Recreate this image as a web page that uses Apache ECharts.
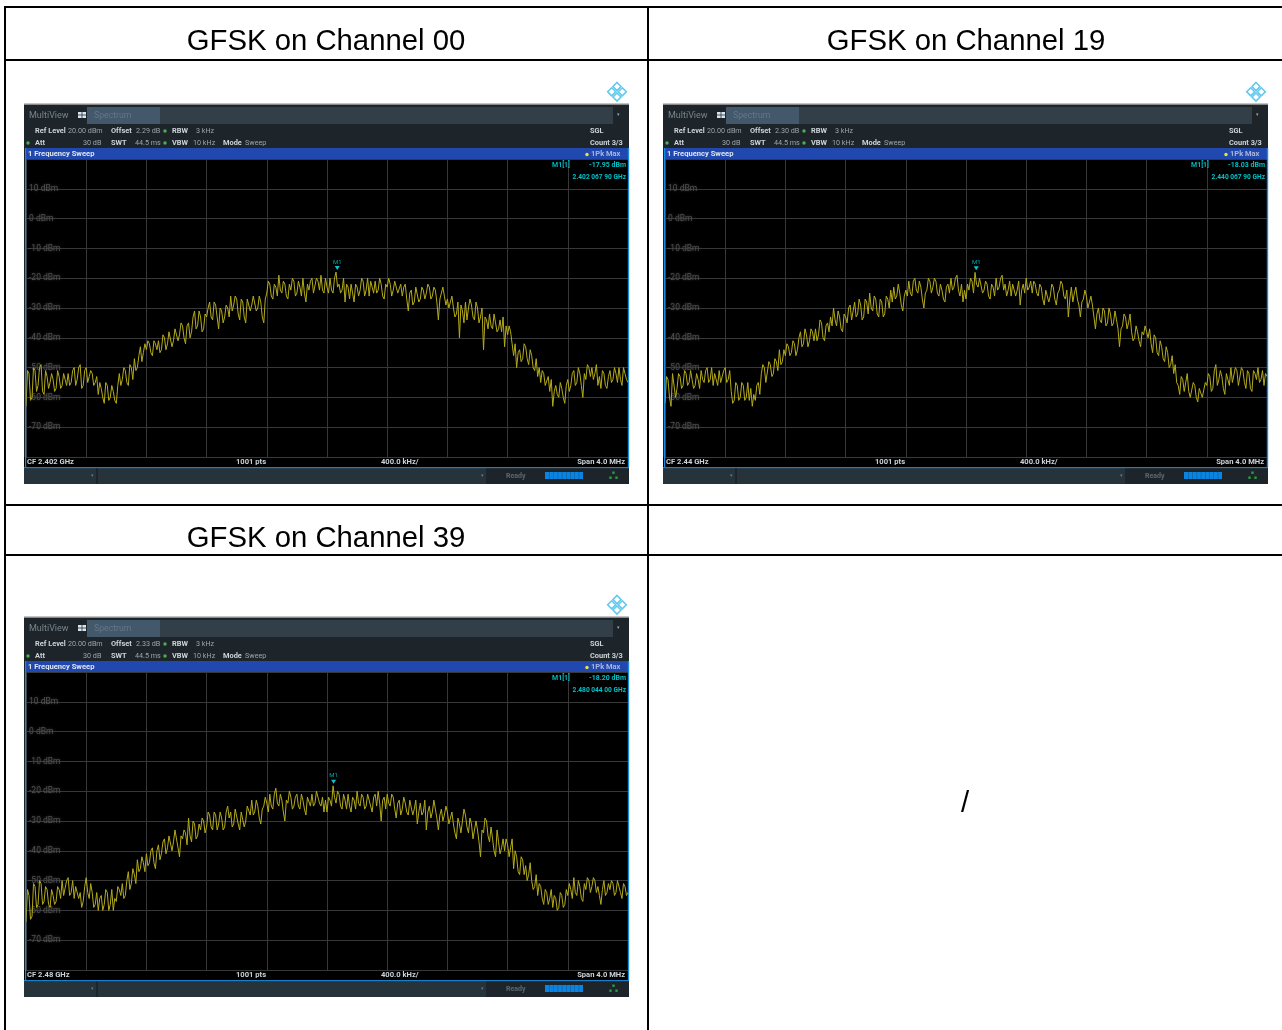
<!DOCTYPE html>
<html><head><meta charset="utf-8">
<style>html,body{margin:0;padding:0;background:#fff}#c{width:1282px;height:1030px}</style>
<script src="https://cdn.jsdelivr.net/npm/echarts@6/dist/echarts.min.js"></script>
</head><body><div id="c"></div>
<script>
const titles = ['GFSK on Channel 00','GFSK on Channel 19','GFSK on Channel 39'];
const yTicks = [10,0,-10,-20,-30,-40,-50,-60,-70];
const trace00 = [
-63,-52,-60,-51,-56,-49,-59,-53,-55,-54,-57,-53,-56,-54,-52,-55,-50,-54,-49,-56,
-50,-53,-52,-55,-59,-57,-62,-56,-60,-58,-62,-52,-54,-51,-56,-50,-47,-50,-43,-45,
-44,-42,-46,-42,-41,-44,-40,-42,-38,-41,-37,-39,-36,-42,-35,-38,-31,-36,-33,-37,
-33,-28,-34,-29,-37,-31,-33,-30,-26,-29,-27,-34,-28,-35,-27,-29,-26,-30,-28,-35,
-25,-22,-27,-23,-19,-25,-22,-27,-24,-21,-25,-23,-20,-28,-24,-20,-25,-21,-19,-25,
-23,-20,-25,-17.95,-22,-24,-28,-23,-22,-28,-23,-24,-21,-24,-26,-23,-21,-24,-22,-27,
-23,-22,-24,-21,-25,-26,-22,-31,-24,-28,-23,-27,-24,-25,-23,-26,-24,-34,-25,-26,
-27,-28,-30,-32,-40,-31,-28,-30,-29,-34,-30,-33,-44,-34,-32,-37,-35,-37,-38,-43,
-39,-38,-46,-50,-44,-47,-43,-49,-46,-51,-53,-55,-52,-56,-58,-63,-56,-60,-57,-62,
-54,-56,-51,-55,-52,-60,-54,-50,-50,-52,-56,-57,-52,-57,-51,-54,-52,-50,-56,-52,-55];
const trace00fine = [
-51,-61,-50,-58,-50,-58,-51,-57,-52,-58,-51,-57,-52,-56,-56,-51,-56,-50,-57,-51,
-55,-51,-56,-53,-55,-60,-55,-61,-56,-61,-56,-56,-50,-55,-49,-54,-51,-46,-48,-42,
-41,-45,-41,-44,-45,-39,-44,-38,-43,-37,-41,-35,-40,-36,-40,-33,-37,-31,-38,-32,
-30,-33,-28,-33,-30,-35,-29,-33,-31,-26,-32,-27,-33,-27,-31,-26,-31,-26,-33,-27,
-21,-26,-22,-26,-24,-21,-26,-22,-20,-26,-21,-26,-25,-22,-21,-25,-20,-24,-24,-20,
-25,-24,-20,-23,-25,-20,-22,-27,-25,-22,-26,-20,-26,-20,-21,-25,-25,-20,-26,-22,
-20,-26,-21,-25,-22,-23,-27,-25,-29,-23,-28,-23,-27,-22,-27,-23,-28,-27,-23,-29,
-30,-26,-33,-28,-29,-35,-34,-27,-33,-28,-35,-30,-33,-37,-36,-32,-38,-34,-33,-36,
-36,-42,-42,-45,-48,-42,-47,-44,-50,-47,-50,-51,-56,-53,-54,-58,-59,-55,-60,-56,
-58,-52,-56,-50,-56,-52,-49,-53,-54,-49,-53,-51,-56,-53,-55,-50,-55,-54,-50,-54];
const trace19 = [
-62,-54,-63,-52,-57,-53,-56,-52,-55,-54,-56,-54,-51,-55,-50,-54,-56,-52,-51,-55,
-50,-54,-58,-61,-56,-60,-56,-60,-61,-63,-61,-55,-52,-50,-55,-49,-52,-48,-44,-48,
-46,-43,-45,-42,-44,-38,-42,-39,-41,-38,-37,-39,-35,-41,-35,-33,-30,-36,-33,-38,
-33,-30,-34,-28,-32,-29,-33,-28,-25,-31,-27,-33,-28,-32,-27,-24,-23,-26,-25,-31,
-24,-21,-26,-20,-25,-23,-30,-24,-21,-23,-21,-26,-24,-28,-22,-20,-23,-19,-26,-28,
-27,-24,-21,-18.03,-23,-20,-24,-22,-27,-23,-20,-23,-19,-22,-24,-26,-22,-24,-29,-22,
-20,-23,-25,-22,-26,-23,-29,-24,-26,-23,-29,-24,-22,-27,-33,-23,-25,-27,-33,-27,
-26,-28,-29,-37,-30,-35,-31,-35,-32,-35,-34,-43,-36,-33,-35,-38,-40,-38,-43,-39,
-38,-37,-45,-40,-46,-43,-48,-45,-49,-52,-55,-59,-54,-55,-58,-60,-56,-61.5,-57,-60,
-56,-53,-57,-49,-54,-53,-59,-54,-50,-55,-51,-56,-51,-57,-52,-58,-52,-50,-54,-56,-53];
const trace19fine = [
-53,-60,-52,-60,-52,-57,-51,-56,-51,-57,-52,-57,-54,-51,-55,-50,-52,-56,-55,-51,
-55,-51,-62,-55,-61,-55,-61,-55,-57,-59,-56,-59,-49,-55,-48,-53,-47,-51,-49,-44,
-42,-46,-41,-46,-40,-43,-37,-43,-37,-41,-41,-34,-40,-36,-38,-36,-34,-31,-37,-32,
-35,-29,-31,-33,-27,-34,-27,-32,-30,-26,-32,-27,-33,-26,-30,-28,-27,-22,-29,-26,
-26,-25,-21,-24,-21,-27,-25,-20,-25,-20,-25,-22,-27,-23,-25,-24,-20,-24,-22,-24,
-22,-20,-25,-22,-20,-25,-21,-26,-22,-26,-24,-20,-24,-26,-21,-22,-26,-21,-24,-25,
-24,-21,-21,-25,-22,-27,-24,-28,-22,-27,-25,-21,-26,-24,-27,-28,-23,-29,-28,-24,
-30,-26,-33,-32,-34,-30,-36,-30,-36,-31,-37,-37,-32,-37,-32,-41,-36,-41,-38,-36,
-40,-42,-39,-45,-41,-47,-43,-50,-46,-49,-56,-53,-58,-52,-60,-55,-60,-57,-60,-55,
-52,-58,-51,-56,-51,-57,-52,-56,-55,-50,-56,-50,-55,-51,-57,-51,-54,-55,-51,-52];
const trace39 = [
-64,-55,-62,-52,-58,-51,-57,-53,-59,-55,-57,-53,-50,-55,-49,-54,-56,-52,-54,-57,
-49,-56,-54,-58,-60,-55,-58,-54,-58,-60,-57,-53,-51,-55,-47,-51,-48,-43,-46,-44,
-41,-44,-39,-46,-38,-41,-36,-39,-35,-37,-33,-42,-36,-34,-29,-37,-31,-35,-33,-30,
-32,-28,-33,-28,-31,-29,-32,-25,-27,-31,-26,-33,-27,-30,-25,-23,-27,-25,-31,-25,
-24,-21,-26,-19,-25,-23,-30,-24,-22,-25,-21,-26,-23,-28,-22,-21,-24,-20,-25,-27,
-27,-23,-18.2,-24,-21,-26,-23,-21,-27,-23,-20,-25,-22,-25,-23,-27,-21,-20,-30,-22,
-21,-25,-22,-29,-23,-26,-24,-28,-23,-26,-31,-24,-27,-33,-25,-27,-26,-33,-26,-28,
-27,-29,-31,-36,-31,-30,-28,-34,-31,-36,-33,-42,-34,-30,-37,-36,-42,-37,-39,-40,
-38,-39,-46,-42,-48,-43,-45,-48,-50,-52,-55,-52,-58,-54,-56,-59,-56,-59,-55,-58,
-55,-53,-49,-55,-52,-57,-53,-50,-52,-50,-52,-58,-50,-54,-53,-51,-54,-50,-56,-52,-54];
const trace39fine = [
-53,-63,-51,-59,-50,-58,-52,-58,-53,-58,-52,-56,-55,-50,-55,-50,-52,-56,-59,-52,
-54,-51,-59,-54,-56,-60,-53,-60,-53,-56,-52,-55,-56,-50,-53,-46,-51,-47,-42,-47,
-45,-40,-44,-40,-43,-37,-41,-35,-40,-33,-39,-35,-33,-38,-35,-30,-36,-31,-29,-34,
-27,-32,-27,-33,-27,-33,-27,-29,-32,-26,-31,-27,-32,-25,-28,-28,-23,-29,-26,-22,
-27,-25,-21,-24,-21,-27,-23,-20,-26,-22,-25,-21,-26,-22,-25,-25,-20,-24,-22,-23,
-22,-25,-22,-20,-25,-21,-26,-25,-22,-26,-24,-21,-26,-21,-25,-22,-25,-24,-23,-26,
-24,-21,-26,-24,-28,-22,-27,-23,-28,-23,-27,-28,-23,-27,-29,-23,-29,-28,-30,-25,
-31,-27,-34,-29,-34,-26,-32,-29,-36,-30,-37,-33,-29,-35,-32,-40,-33,-41,-36,-36,
-42,-36,-40,-47,-42,-48,-50,-44,-53,-48,-51,-56,-53,-58,-53,-55,-60,-54,-59,-53,
-51,-56,-54,-50,-56,-51,-49,-54,-49,-54,-55,-53,-55,-51,-50,-55,-50,-54,-51,-55];
const traces = [[trace00,trace00fine],[trace19,trace19fine],[trace39,trace39fine]];
const offsets = ['2.29 dB','2.30 dB','2.33 dB'];
const centers = ['CF 2.402 GHz','CF 2.44 GHz','CF 2.48 GHz'];
const markerLevel = ['-17.95 dBm','-18.03 dBm','-18.20 dBm'];
const markerFreq = ['2.402 067 90 GHz','2.440 067 90 GHz','2.480 044 00 GHz'];
const markerOffsetMHz = [0.0679,0.0679,0.044];
const markerValue = [-17.95,-18.03,-18.20];

const origin = [[0,0],[639,0],[0,513]];
const FONT = 'Roboto, "Open Sans", sans-serif';
const graphic = [];
const rect = (x,y,w,h,fill,z) => graphic.push({type:'rect',silent:true,z:z||1,shape:{x,y,width:w,height:h},style:{fill}});
const txt = (x,y,text,o) => { o=o||{}; graphic.push({type:'text',silent:true,z:o.z||5,x,y,style:{
  text,fill:o.fill||'#c4ccd0',font:(o.bold===false?'':'bold ')+(o.size||7)+'px '+(o.family||FONT),
  textAlign:o.align||'left',textVerticalAlign:'middle',textBaseline:'middle',opacity:o.opacity==null?1:o.opacity}}); };
const diamond = (cx,cy,r,stroke) => graphic.push({type:'polygon',silent:true,z:3,shape:{points:[[cx,cy-r],[cx+r,cy],[cx,cy+r],[cx-r,cy]]},style:{fill:'none',stroke,lineWidth:1.6}});

[[4,6,2,1024],[647,6,2,1024],[4,6,1278,2],[4,59,1278,2],[4,504,1278,2],[4,554,1278,2]].forEach(r=>rect(r[0],r[1],r[2],r[3],'#000',2));
const T={bold:false,size:29.3,family:'"Liberation Sans",Arial',fill:'#000',align:'center'};
txt(326,42,titles[0],T);
txt(966,42,titles[1],T);
txt(326,539,titles[2],T);
txt(965,804,'/',T);

const grids=[],xAxes=[],yAxes=[],series=[];
traces.forEach((pair,k)=>{
  const ox=origin[k][0], oy=origin[k][1];
  const X=v=>ox+v, Y=v=>oy+v;
  const lc='#62c8ee';
  diamond(X(617),Y(86.5),4,lc);diamond(X(617),Y(97),4,lc);diamond(X(611.7),Y(91.8),4,lc);diamond(X(622.3),Y(91.8),4,lc);
  rect(X(24),Y(104),605,380,'#1d252b');
  rect(X(24),Y(103.5),605,1.5,'#8a8a8a');
  rect(X(87),Y(107),526,17,'#333f48');
  rect(X(87),Y(107),73,17,'#43586a');
  rect(X(25),Y(148),604,11,'#2148ae');
  rect(X(24),Y(457),605,10,'#000');
  rect(X(24),Y(467),605,1.5,'#1a7fc8');
  rect(X(24),Y(468.5),605,15.5,'#27333b');
  rect(X(96),Y(468.5),2,15.5,'#1d252b');
  rect(X(486),Y(468.5),143,15.5,'#1d252b');
  rect(X(545),Y(472),38,7,'#0a84e0');
  for(let s=1;s<9;s++) rect(X(545+s*4.2),Y(472),0.6,7,'#0a5c9c',2);
  rect(X(25),Y(148),1.2,319,'#1a8ae0',6);
  rect(X(627.8),Y(148),1.4,319,'#1a8ae0',6);
  rect(X(78),Y(112),8,6,'#d8e4f0');
  rect(X(81.6),Y(112),0.8,6,'#2a3038');
  rect(X(78),Y(114.6),8,0.8,'#2a3038');
  [[613.5,472.5],[610.5,477.5],[616.5,477.5]].forEach(p=>rect(X(p[0]-1.2),Y(p[1]-1),2.4,2.4,'#2aa040'));
  [[165,131,'#48b050'],[28,143,'#48b050'],[165,143,'#48b050'],[587,154.5,'#f0e040']].forEach(d=>graphic.push({type:'circle',silent:true,z:5,shape:{cx:X(d[0]),cy:Y(d[1]),r:1.7},style:{fill:d[2]}}));
  const grey='#9aa4aa', w='#ccd4d8';
  txt(X(29),Y(115.5),'MultiView',{fill:'#78848c',size:9,bold:false});
  txt(X(94),Y(115.5),'Spectrum',{fill:'#62788a',size:8.7,bold:false});
  txt(X(618),Y(115),'▾',{fill:'#9aa4aa',size:5,align:'center',bold:false});
  [[35,131,'Ref Level'],[111,131,'Offset'],[172,131,'RBW'],[35,143,'Att'],[111,143,'SWT'],[172,143,'VBW'],[223,143,'Mode'],[590,131,'SGL'],[590,143,'Count 3/3']]
    .forEach(t=>txt(X(t[0]),Y(t[1]),t[2],{fill:w,size:7.4}));
  [[68,131,'20.00 dBm'],[136,131,offsets[k]],[196,131,'3 kHz'],[83,143,'30 dB'],[135,143,'44.5 ms'],[193,143,'10 kHz'],[245,143,'Sweep']]
    .forEach(t=>txt(X(t[0]),Y(t[1]),t[2],{fill:grey,bold:false,size:7.2}));
  txt(X(28),Y(154),'1 Frequency Sweep',{fill:'#dfe6f0',size:7.6});
  txt(X(591),Y(154.5),'1Pk Max',{fill:'#aab6d8',size:7.5});
  txt(X(552),Y(165.5),'M1[1]',{fill:'#00b4bc',z:7});
  txt(X(626),Y(165.5),markerLevel[k],{fill:'#00c0c8',align:'right',z:7});
  txt(X(626),Y(177),markerFreq[k],{fill:'#00c0c8',align:'right',z:7,size:6.6});
  const F={fill:w,z:7,size:7.6};
  txt(X(27),Y(462),centers[k],F);
  txt(X(236),Y(462),'1001 pts',F);
  txt(X(381),Y(462),'400.0 kHz/',F);
  txt(X(625),Y(462),'Span 4.0 MHz',{fill:w,z:7,size:7.6,align:'right'});
  txt(X(506),Y(476),'Ready',{fill:'#5c6870',z:7});
  txt(X(92),Y(476),'▾',{fill:'#6c7880',size:5,align:'center',bold:false});
  txt(X(482),Y(476),'▾',{fill:'#6c7880',size:5,align:'center',bold:false});
  grids.push({left:X(26),top:Y(159),width:602,height:298,show:true,backgroundColor:'#000',borderWidth:0,z:3});
  xAxes.push({type:'value',gridIndex:k,min:-2,max:2,interval:0.4,axisLine:{show:false},axisTick:{show:false},axisLabel:{show:false},
    splitLine:{show:true,lineStyle:{color:'#383838',width:1}},z:3});
  yAxes.push({type:'value',gridIndex:k,min:-80,max:20,interval:10,axisLine:{show:false},axisTick:{show:false},
    axisLabel:{inside:true,margin:3,color:'#505050',fontFamily:FONT,fontSize:8.5,textShadowColor:'#404040',textShadowBlur:3,
      formatter:v=>yTicks.includes(v)?v+' dBm':''},
    splitLine:{show:true,lineStyle:{color:'#383838',width:1}},z:3});
  const coarse=pair[0], fine=pair[1];
  const step=4/(coarse.length-1);
  const pts=[];
  coarse.forEach((v,i)=>{ pts.push([-2+i*step,v]); if(i<fine.length) pts.push([-2+(i+0.5)*step,fine[i]]); });
  series.push({type:'line',xAxisIndex:k,yAxisIndex:k,z:4,showSymbol:false,silent:true,animation:false,
    data:pts,lineStyle:{color:'#b5ab1a',width:1},
    markPoint:{silent:true,animation:false,symbol:'triangle',symbolSize:[5,4],symbolRotate:180,symbolOffset:[0,-4],
      itemStyle:{color:'#00c8d0'},
      label:{show:true,position:'top',distance:1,formatter:'M1',color:'#00a8b0',fontSize:6,fontFamily:FONT},
      data:[{coord:[markerOffsetMHz[k],markerValue[k]]}]}});
});
const chart=echarts.init(document.getElementById('c'),null,{renderer:'canvas'});
chart.setOption({animation:false,backgroundColor:'#fff',graphic:{elements:graphic},grid:grids,xAxis:xAxes,yAxis:yAxes,series});
</script></body></html>
